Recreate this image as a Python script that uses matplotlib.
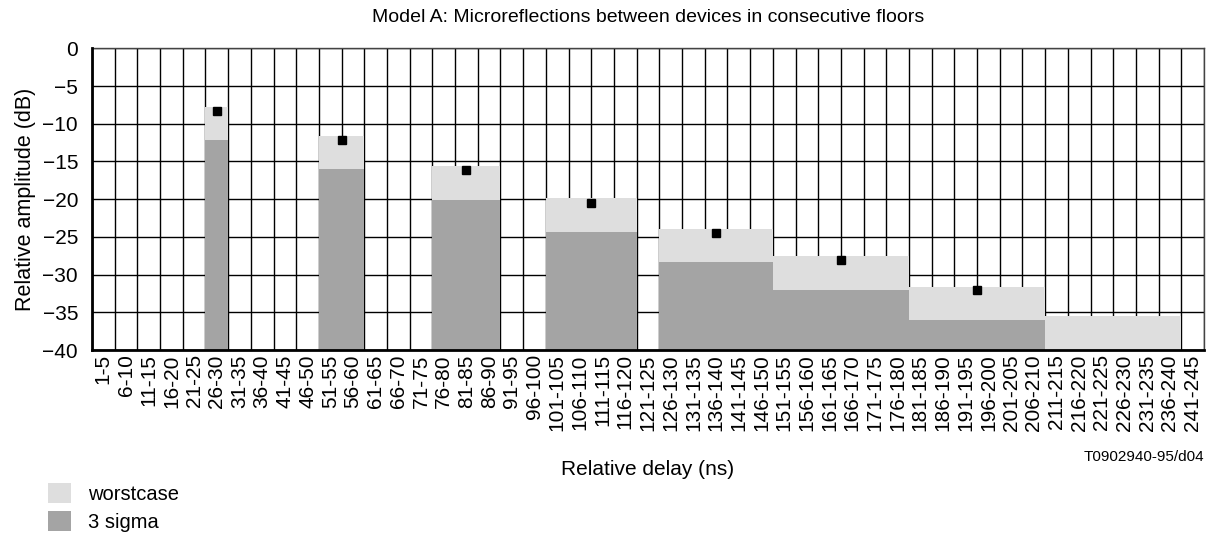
import numpy as np
import matplotlib.pyplot as plt
from matplotlib.patches import Patch

plt.rcParams['font.family'] = ['Liberation Sans', 'DejaVu Sans']

# delay bins (ns)
categories = ["1-5", "6-10", "11-15", "16-20", "21-25", "26-30", "31-35", "36-40",
              "41-45", "46-50", "51-55", "56-60", "61-65", "66-70", "71-75", "76-80",
              "81-85", "86-90", "91-95", "96-100", "101-105", "106-110", "111-115",
              "116-120", "121-125", "126-130", "131-135", "136-140", "141-145",
              "146-150", "151-155", "156-160", "161-165", "166-170", "171-175",
              "176-180", "181-185", "186-190", "191-195", "196-200", "201-205",
              "206-210", "211-215", "216-220", "221-225", "226-230", "231-235",
              "236-240", "241-245"]

# each block of bars spans from first to last bin
group_first = ["26-30", "51-55", "76-80", "101-105", "126-130", "151-155", "181-185", "211-215"]
group_last = ["26-30", "56-60", "86-90", "116-120", "146-150", "176-180", "206-210", "236-240"]
worstcase = [-7.8, -11.6, -15.6, -19.9, -23.9, -27.6, -31.6, -35.5]
sigma3 = [-12.2, -16.0, -20.1, -24.3, -28.3, -32.0, -36.0, np.nan]
points = [-8.3, -12.2, -16.2, -20.5, -24.5, -28.1, -32.1, np.nan]

light = '#dedede'
dark = '#a4a4a4'
floor = -40

fig = plt.figure(figsize=(12.12, 5.39), dpi=100)
ax = fig.add_axes([0.0759, 0.3506, 0.9175, 0.5598])

i0 = np.array([categories.index(c) for c in group_first])
i1 = np.array([categories.index(c) for c in group_last])
centers = (i0 + i1) / 2
widths = i1 - i0 + 1

ax.bar(centers, np.array(worstcase) - floor, width=widths, bottom=floor,
       color=light, zorder=2)
ax.bar(centers, np.array(sigma3) - floor, width=widths, bottom=floor,
       color=dark, zorder=2)
ax.plot(centers, points, 's', color='black', markersize=6, zorder=4)

n = len(categories)
ax.set_xlim(-0.5, n - 0.5)
ax.set_ylim(-40, 0)
ax.set_xticks(np.arange(n))
ax.set_xticklabels(categories, rotation=90, fontsize=15)
ax.set_xticks(np.arange(n + 1) - 0.5, minor=True)
ax.set_yticks(np.arange(-40, 1, 5))
ax.set_yticklabels([str(v).replace('-', '\u2212') for v in range(-40, 1, 5)], fontsize=15)
ax.tick_params(which='both', length=0)
ax.tick_params(axis='x', pad=3)
ax.tick_params(axis='y', pad=10)
ax.grid(which='minor', axis='x', color='black', linewidth=1, zorder=1)
ax.grid(which='major', axis='y', color='black', linewidth=1, zorder=1)
ax.set_axisbelow(True)

for side in ['top', 'right']:
    ax.spines[side].set_linewidth(1)
    ax.spines[side].set_color('#444444')
for side in ['left', 'bottom']:
    ax.spines[side].set_linewidth(2)
    ax.spines[side].set_zorder(3)

ax.set_ylabel('Relative amplitude (dB)', fontsize=15.5, labelpad=5)
ax.set_xlabel('Relative delay (ns)', fontsize=15, labelpad=21)
ax.set_title('Model A: Microreflections between devices in consecutive floors',
             fontsize=14, pad=19)
fig.text(0.9934, 0.152, 'T0902940-95/d04', ha='right', va='center', fontsize=11)

handles = [Patch(facecolor=light, label='worstcase'),
           Patch(facecolor=dark, label='3 sigma')]
fig.legend(handles=handles, loc='lower left', bbox_to_anchor=(0.0396, 0.013),
           frameon=False, fontsize=14.5, handlelength=1.15, handleheight=1.15,
           handletextpad=0.85, labelspacing=0.35, borderpad=0, borderaxespad=0)

fig.savefig('out.png', dpi=100)
